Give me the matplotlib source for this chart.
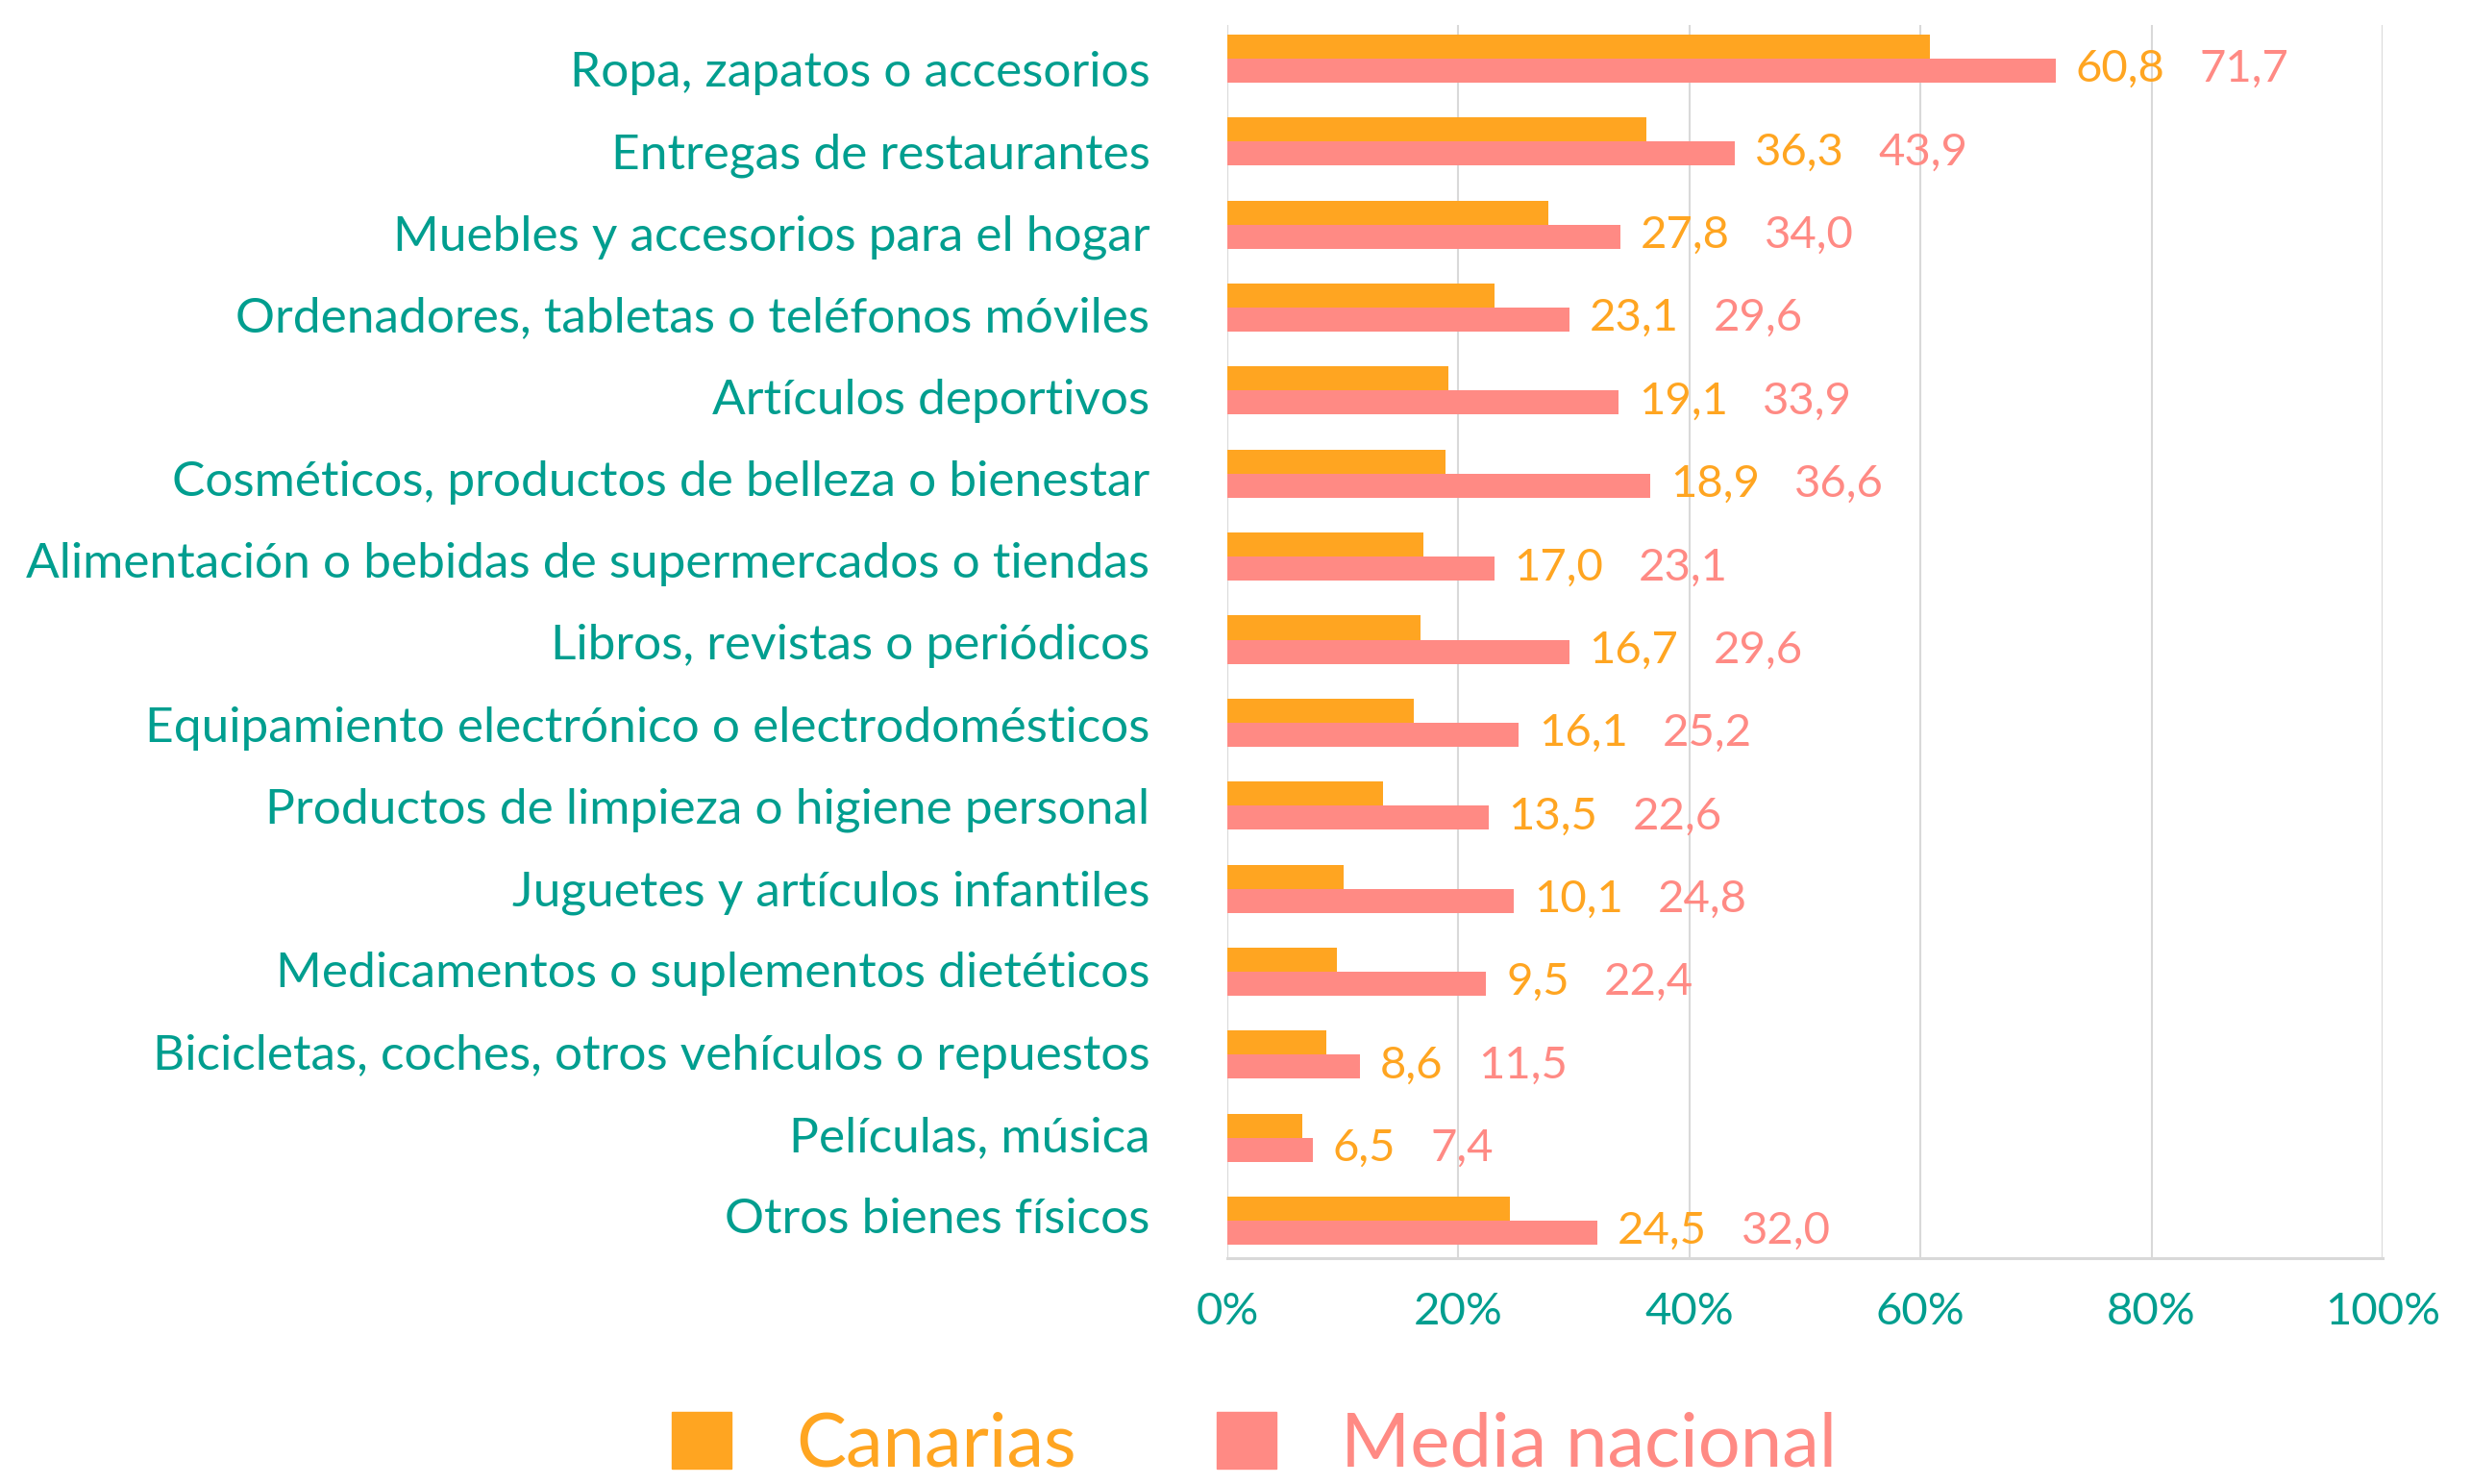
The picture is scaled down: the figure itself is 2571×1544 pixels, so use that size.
import numpy as np
import matplotlib.pyplot as plt
from matplotlib.patches import Patch

plt.rcParams['font.family'] = ['Lato', 'DejaVu Sans']

categorias = ['Ropa, zapatos o accesorios',
              'Entregas de restaurantes',
              'Muebles y accesorios para el hogar',
              'Ordenadores, tabletas o teléfonos móviles',
              'Artículos deportivos',
              'Cosméticos, productos de belleza o bienestar',
              'Alimentación o bebidas de supermercados o tiendas',
              'Libros, revistas o periódicos',
              'Equipamiento electrónico o electrodomésticos',
              'Productos de limpieza o higiene personal',
              'Juguetes y artículos infantiles',
              'Medicamentos o suplementos dietéticos',
              'Bicicletas, coches, otros vehículos o repuestos',
              'Películas, música',
              'Otros bienes físicos']

canarias = [60.8, 36.3, 27.8, 23.1, 19.1, 18.9, 17.0, 16.7, 16.1, 13.5, 10.1, 9.5, 8.6, 6.5, 24.5]
media = [71.7, 43.9, 34.0, 29.6, 33.9, 36.6, 23.1, 29.6, 25.2, 22.6, 24.8, 22.4, 11.5, 7.4, 32.0]

xticks = [0, 20, 40, 60, 80, 100]
xtick_labels = ['0%', '20%', '40%', '60%', '80%', '100%']

naranja = '#FFA521'
rosa = '#FF8A84'
verde = '#009E8F'
gris = '#D9D9D9'

fig = plt.figure(figsize=(25.71, 15.44), dpi=100)
ax = fig.add_axes([0.4967, 0.1522, 0.4675, 0.8312])

y = np.arange(len(categorias))
h = 0.29

ax.barh(y - h / 2, canarias, height=h, color=naranja, zorder=3)
ax.barh(y + h / 2, media, height=h, color=rosa, zorder=3)

# etiquetas de valores
for i in range(len(categorias)):
    t1 = ax.annotate(f'{canarias[i]:.1f}'.replace('.', ','), xy=(media[i], y[i] + h / 2),
                     xytext=(15, 1), textcoords='offset points',
                     va='center', ha='left', fontsize=34, color=naranja)
    ax.annotate(f'{media[i]:.1f}'.replace('.', ','), xy=(1, 0.5), xycoords=t1,
                xytext=(26, 0), textcoords='offset points',
                va='center', ha='left', fontsize=34, color=rosa)

ax.set_xlim(0, 100)
ax.set_ylim(14.451, -0.409)
ax.set_xticks(xticks)
ax.set_xticklabels(xtick_labels)

# las etiquetas de categoría van sobre la línea base, algo más juntas que las barras
y_lab = 0.336 + y * 0.9867
ax.set_yticks(y_lab)
ax.set_yticklabels(categorias)
for lab in ax.get_yticklabels():
    lab.set_va('baseline')

ax.grid(axis='x', color=gris, linewidth=1.5, zorder=0)
for s in ['top', 'right', 'left']:
    ax.spines[s].set_visible(False)
ax.spines['bottom'].set_color(gris)
ax.spines['bottom'].set_linewidth(2.2)

ax.tick_params(axis='x', length=0, pad=25, labelsize=34, labelcolor=verde)
ax.tick_params(axis='y', length=0, pad=58, labelsize=37, labelcolor=verde)

handles = [Patch(color=naranja), Patch(color=rosa)]
leg = fig.legend(handles, ['Canarias', 'Media nacional'], loc='center',
                 bbox_to_anchor=(0.5075, 0.026), ncol=2, frameon=False,
                 fontsize=56, handlelength=0.8, handleheight=0.8,
                 handletextpad=0.86, columnspacing=1.88)
leg.get_texts()[0].set_color(naranja)
leg.get_texts()[1].set_color(rosa)

plt.savefig('out.png', dpi=100)
